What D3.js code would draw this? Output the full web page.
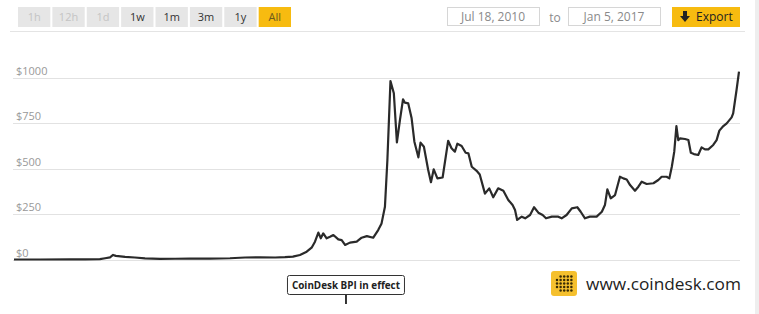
<!DOCTYPE html>
<html>
<head>
<meta charset="utf-8">
<script src="https://cdn.jsdelivr.net/npm/d3@7"></script>
<style>
  body { margin: 0; background: #fff; }
  svg { display: block; font-family: "Open Sans", Lato, sans-serif; }
</style>
</head>
<body>
<svg id="chart" width="759" height="314"></svg>
<script>
// range buttons along the top
const rangeButtons = ["1h", "12h", "1d", "1w", "1m", "3m", "1y", "All"];
const disabledButtons = ["1h", "12h", "1d"];
const activeButton = "All";
const rangeFrom = "Jul 18, 2010";
const rangeTo = "Jan 5, 2017";

// price ticks
const yTicks = [0, 250, 500, 750, 1000];

// CoinDesk BPI price series (USD)
const dates = [
  "2010-07-18", "2010-10-11", "2011-01-16", "2011-03-06", "2011-04-24", "2011-05-11", "2011-05-27",
  "2011-06-06", "2011-06-15", "2011-07-15", "2011-08-16", "2011-09-18", "2011-11-06", "2011-12-25",
  "2012-02-11", "2012-04-17", "2012-06-21", "2012-08-09", "2012-09-27", "2012-11-15", "2012-12-17",
  "2013-01-12", "2013-02-04", "2013-02-26", "2013-03-14", "2013-03-25", "2013-04-05", "2013-04-13",
  "2013-04-21", "2013-05-02", "2013-05-13", "2013-05-24", "2013-06-09", "2013-06-20", "2013-07-01",
  "2013-07-17", "2013-08-08", "2013-08-24", "2013-09-10", "2013-10-01", "2013-10-17", "2013-10-28",
  "2013-11-08", "2013-11-16", "2013-11-26", "2013-12-07", "2013-12-17", "2013-12-27", "2014-01-06",
  "2014-01-12", "2014-01-23", "2014-02-03", "2014-02-12", "2014-02-25", "2014-03-04", "2014-03-15",
  "2014-03-29", "2014-04-07", "2014-04-16", "2014-04-28", "2014-05-15", "2014-06-02", "2014-06-13",
  "2014-06-24", "2014-07-02", "2014-07-16", "2014-07-29", "2014-08-07", "2014-08-18", "2014-09-02",
  "2014-09-13", "2014-09-30", "2014-10-14", "2014-10-27", "2014-11-12", "2014-11-29", "2014-12-15",
  "2014-12-29", "2015-01-06", "2015-01-13", "2015-01-28", "2015-02-08", "2015-02-24", "2015-03-09",
  "2015-03-23", "2015-04-06", "2015-04-17", "2015-05-06", "2015-05-27", "2015-06-07", "2015-06-23",
  "2015-07-10", "2015-07-28", "2015-08-08", "2015-08-22", "2015-09-07", "2015-09-29", "2015-10-16",
  "2015-10-26", "2015-11-03", "2015-11-14", "2015-11-28", "2015-12-14", "2015-12-25", "2016-01-05",
  "2016-01-16", "2016-02-01", "2016-02-12", "2016-02-23", "2016-03-10", "2016-04-01", "2016-04-17",
  "2016-04-28", "2016-05-14", "2016-05-23", "2016-05-31", "2016-06-08", "2016-06-15", "2016-06-21",
  "2016-06-27", "2016-07-13", "2016-07-24", "2016-08-01", "2016-08-11", "2016-08-25", "2016-09-05",
  "2016-09-16", "2016-09-27", "2016-10-13", "2016-10-24", "2016-11-02", "2016-11-15", "2016-11-26",
  "2016-12-12", "2016-12-17", "2016-12-28", "2017-01-05"
];
const prices = [
  0.07, 0.1, 0.4, 0.9, 2, 7, 12,
  25, 20, 14, 11, 6, 3, 4,
  5, 5, 7, 11, 12, 11, 13,
  16, 25, 43, 65, 98, 148, 117,
  144, 117, 125, 135, 111, 107, 80,
  93, 98, 120, 129, 120, 162, 199,
  291, 548, 983, 916, 645, 769, 883,
  864, 860, 778, 649, 563, 644, 621,
  493, 426, 497, 447, 452, 654, 613,
  594, 638, 625, 588, 585, 511, 490,
  468, 363, 392, 343, 392, 379, 328,
  300, 273, 218, 236, 227, 245, 288,
  258, 245, 227, 236, 236, 227, 245,
  282, 288, 263, 227, 236, 236, 263,
  300, 387, 337, 355, 456, 447, 441,
  410, 379, 401, 429, 416, 420, 438,
  456, 456, 447, 511, 594, 735, 658,
  667, 664, 658, 588, 581, 576, 618,
  607, 607, 631, 658, 710, 735, 750,
  783, 805, 934, 1035
];

// flag marking the start of the index
const flagDate = "2013-07-04";
const flagLabel = "CoinDesk BPI in effect";
const siteLabel = "www.coindesk.com";

const parse = d3.timeParse("%Y-%m-%d");
const series = dates.map((d, i) => ({ date: parse(d), value: prices[i] }));

const svg = d3.select("#chart");
const W = 759, H = 314;

// right side scrollbar strip
svg.append("rect").attr("x", 755).attr("y", 0).attr("width", 4).attr("height", H).attr("fill", "#eeeeee");

// ---- toolbar ----
const btn = d3.scaleBand().domain(rangeButtons).range([18, 291]).paddingInner(0.06);
const buttons = svg.append("g").selectAll("g").data(rangeButtons).enter().append("g")
  .attr("transform", d => "translate(" + btn(d) + ",7)");
buttons.append("rect")
  .attr("width", btn.bandwidth()).attr("height", 20)
  .attr("fill", d => d === activeButton ? "#f7bb10" : "#e6e6e6");
buttons.append("text")
  .attr("x", btn.bandwidth() / 2).attr("y", 14)
  .attr("text-anchor", "middle")
  .style("font-size", "11px")
  .attr("fill", d => disabledButtons.includes(d) ? "#c4c4c4" : (d === activeButton ? "#6b5a1c" : "#333"))
  .text(d => d);

// date range inputs
function dateBox(x, label) {
  svg.append("rect").attr("x", x + 0.5).attr("y", 7.5).attr("width", 92).attr("height", 18)
    .attr("fill", "#fff").attr("stroke", "#d6d6d6");
  svg.append("text").attr("x", x + 46).attr("y", 21).attr("text-anchor", "middle")
    .style("font-size", "12px").attr("fill", "#8a8a8a").text(label);
}
dateBox(447, rangeFrom);
svg.append("text").attr("x", 555).attr("y", 22).attr("text-anchor", "middle")
  .style("font-size", "12px").attr("fill", "#8a8a8a").text("to");
dateBox(568, rangeTo);

// export button
svg.append("rect").attr("x", 672).attr("y", 7).attr("width", 68).attr("height", 20).attr("fill", "#f7bb10");
svg.append("path")
  .attr("d", "M683,11 h4 v5 h3 l-5,6 l-5,-6 h3 z")
  .attr("fill", "#222");
svg.append("text").attr("x", 696).attr("y", 21).style("font-size", "12px").attr("fill", "#222").text("Export");

// separator under toolbar
svg.append("line").attr("x1", 10).attr("x2", 745).attr("y1", 31.5).attr("y2", 31.5)
  .attr("stroke", "#e4e4e4");

// ---- chart ----
const x = d3.scaleTime()
  .domain([parse("2010-07-18"), parse("2017-01-05")])
  .range([14, 739]);
const y = d3.scaleLinear().domain([0, 1000]).range([259.5, 78]);

const grid = svg.append("g");
grid.selectAll("line").data(yTicks).enter().append("line")
  .attr("x1", 13).attr("x2", 740)
  .attr("y1", d => Math.round(y(d)) + 0.5).attr("y2", d => Math.round(y(d)) + 0.5)
  .attr("stroke", "#e2e2e2");
grid.selectAll("text").data(yTicks).enter().append("text")
  .attr("x", 16).attr("y", d => y(d) - 3)
  .style("font-size", "11px").attr("fill", "#999")
  .text(d => "$" + d);

const line = d3.line()
  .x(d => x(d.date))
  .y(d => y(d.value));

svg.append("path")
  .datum(series)
  .attr("d", line)
  .attr("fill", "none")
  .attr("stroke", "#2a2a2a")
  .attr("stroke-width", 2.2)
  .attr("stroke-linejoin", "round");

// flag
const fx = x(parse(flagDate));
const flag = svg.append("g");
flag.append("line").attr("x1", fx).attr("x2", fx).attr("y1", 295).attr("y2", 304)
  .attr("stroke", "#333").attr("stroke-width", 2);
flag.append("rect").attr("x", fx - 58.5).attr("y", 275.5).attr("width", 117).attr("height", 19)
  .attr("rx", 2).attr("fill", "#fff").attr("stroke", "#333");
flag.append("text").attr("x", fx).attr("y", 289).attr("text-anchor", "middle")
  .attr("textLength", 108).attr("lengthAdjust", "spacingAndGlyphs")
  .style("font-size", "10px").style("font-weight", "bold").attr("fill", "#222")
  .text(flagLabel);

// logo
const logo = svg.append("g").attr("transform", "translate(551,271)");
logo.append("rect").attr("width", 26).attr("height", 25).attr("rx", 3).attr("fill", "#f5c02e");
const dotCols = d3.range(5), dotRows = d3.range(5);
dotRows.forEach(r => dotCols.forEach(c => {
  if (c === 0 && (r === 0 || r === 4)) return;
  logo.append("circle").attr("cx", 6 + c * 3.6).attr("cy", 5.5 + r * 3.5).attr("r", 1.25).attr("fill", "#3a2c05");
}));
svg.append("text").attr("x", 586).attr("y", 290)
  .attr("textLength", 155).attr("lengthAdjust", "spacingAndGlyphs")
  .style("font-size", "17px").attr("fill", "#222")
  .text(siteLabel);
</script>
</body>
</html>
